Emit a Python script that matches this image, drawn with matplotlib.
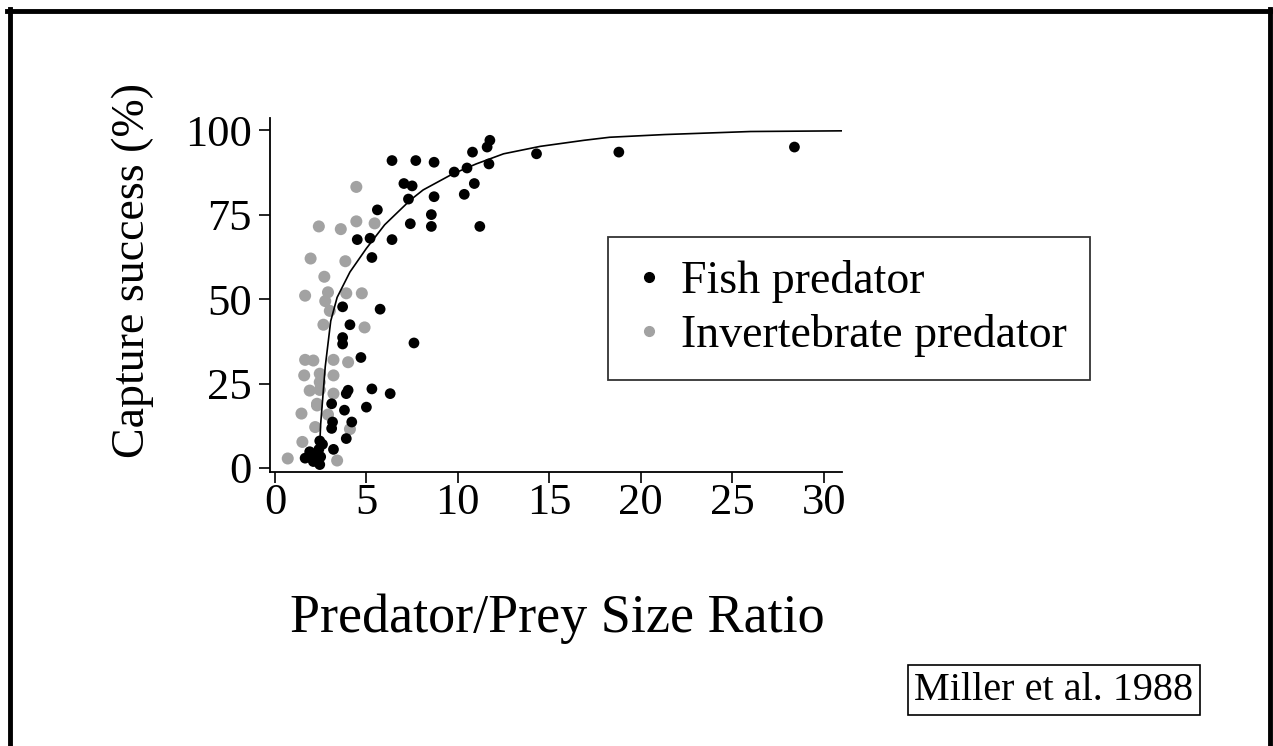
import matplotlib
matplotlib.use('Agg')
import matplotlib.pyplot as plt
from matplotlib.lines import Line2D

plt.rcParams['font.family'] = ['Liberation Serif', 'DejaVu Serif']

# fish predators (black dots)
fish_x = [6.4, 7.7, 8.7, 10.8, 11.75, 11.6, 11.7, 14.3, 18.8, 28.4,
          9.8, 10.5, 10.9, 10.35, 7.05, 7.5, 7.3, 8.7, 8.55, 8.55,
          7.4, 11.2, 5.6, 4.5, 5.2, 6.4, 5.3,
          3.7, 5.75, 4.1, 3.7, 3.7, 7.6, 4.7, 4.0, 3.9, 5.3, 6.3,
          3.1, 3.8, 5.0, 3.15, 3.1, 4.2, 3.9, 3.2,
          2.45, 2.6, 1.9, 1.65, 2.1, 2.45, 2.5, 2.2, 2.4]
fish_y = [91, 91, 90.5, 93.5, 97, 95, 90, 93, 93.5, 95,
          87.6, 88.8, 84.2, 81, 84.2, 83.5, 79.6, 80.3, 75, 71.5,
          72.3, 71.5, 76.4, 67.6, 68, 67.6, 62.3,
          47.7, 47, 42.4, 38.6, 36.7, 37, 32.7, 23, 22, 23.4, 22,
          19, 17.1, 18, 13.6, 11.7, 13.6, 8.7, 5.5,
          8, 7, 4.8, 2.9, 1.9, 1, 3.3, 3.5, 5.5]

# invertebrate predators (grey dots)
inv_x = [4.45, 2.4, 3.6, 4.45, 5.45, 1.95, 3.85, 2.7, 1.65, 2.9,
         2.75, 3.9, 4.75, 3.0, 2.65, 4.9, 1.65, 2.1, 3.2, 4.0,
         1.6, 2.45, 3.2, 1.9, 2.45, 3.2, 1.45, 2.3, 2.9, 2.2,
         4.1, 1.5, 0.7, 3.4, 2.45, 2.3]
inv_y = [83.2, 71.5, 70.7, 73, 72.4, 62, 61.2, 56.6, 51, 52,
         49.4, 51.7, 51.7, 46.5, 42.4, 41.6, 32, 31.8, 32, 31.3,
         27.4, 27.9, 27.4, 22.9, 23.1, 22, 16.1, 18.5, 15.8, 12.1,
         11.5, 7.7, 2.8, 2.2, 25.4, 19]

# fitted curve
curve_x = [2.4, 2.5, 2.75, 3.05, 3.4, 4.1, 5.0, 6.0, 7.4, 8.1, 9.7,
           11.0, 12.5, 14.5, 16.9, 18.3, 21.3, 26.0, 31.0]
curve_y = [1, 13, 30, 43.5, 50.5, 58, 65, 72, 79.3, 82.3, 87,
           90, 93, 95.2, 97, 97.9, 98.7, 99.6, 99.8]

x_ticks = [0, 5, 10, 15, 20, 25, 30]
y_ticks = [0, 25, 50, 75, 100]

W, H = 1273, 746
fig = plt.figure(figsize=(W / 100, H / 100), dpi=100)
ax = fig.add_axes([270 / W, 1 - 472 / H, 572 / W, 354 / H])

ax.scatter(inv_x, inv_y, s=75, color='#a2a2a2', edgecolors='none', zorder=2)
ax.scatter(fish_x, fish_y, s=60, color='black', edgecolors='none', zorder=3)
ax.plot(curve_x, curve_y, color='black', lw=1.2, zorder=4)

ax.set_xlim(-0.27, 31.0)
ax.set_ylim(-1.2, 103.6)
ax.set_xticks(x_ticks)
ax.set_yticks(y_ticks)
ax.tick_params(labelsize=32, length=8, width=1.2)
ax.tick_params(axis='x', pad=0)
ax.tick_params(axis='y', pad=5)
ax.spines['right'].set_visible(False)
ax.spines['top'].set_visible(False)
ax.spines['left'].set_linewidth(1.3)
ax.spines['bottom'].set_linewidth(1.3)

fig.text(133 / W, 1 - 270 / H, 'Capture success (%)', rotation=90,
         ha='center', va='center', fontsize=33)
fig.text(557 / W, 1 - 632 / H, 'Predator/Prey Size Ratio',
         ha='center', va='baseline', fontsize=39)

handles = [
    Line2D([], [], marker='o', ls='none', color='black', markersize=7),
    Line2D([], [], marker='o', ls='none', color='#a2a2a2', markersize=7),
]
leg = ax.legend(handles, ['Fish predator', 'Invertebrate predator'],
                loc='upper left', bbox_to_anchor=(608 / W, 1 - 237 / H),
                bbox_transform=fig.transFigure, fontsize=33,
                frameon=True, fancybox=False, borderpad=0.5,
                labelspacing=0.24, handlelength=0.8, handletextpad=0.3,
                borderaxespad=0)
leg.get_frame().set_edgecolor('black')
leg.get_frame().set_linewidth(1.3)

fig.text(1054 / W, 1 - 690 / H, 'Miller et al. 1988', ha='center',
         va='center', fontsize=29,
         bbox=dict(boxstyle='square,pad=0.15', fc='white', ec='black', lw=1.2))

# outer frame
for xs, ys in [((7, W), (11, 11)), ((10, 10), (9, H)), ((1270, 1270), (9, H))]:
    fig.add_artist(Line2D([x / W for x in xs], [1 - y / H for y in ys],
                          color='black', lw=3.5, transform=fig.transFigure))

fig.savefig('out.png', dpi=100)
